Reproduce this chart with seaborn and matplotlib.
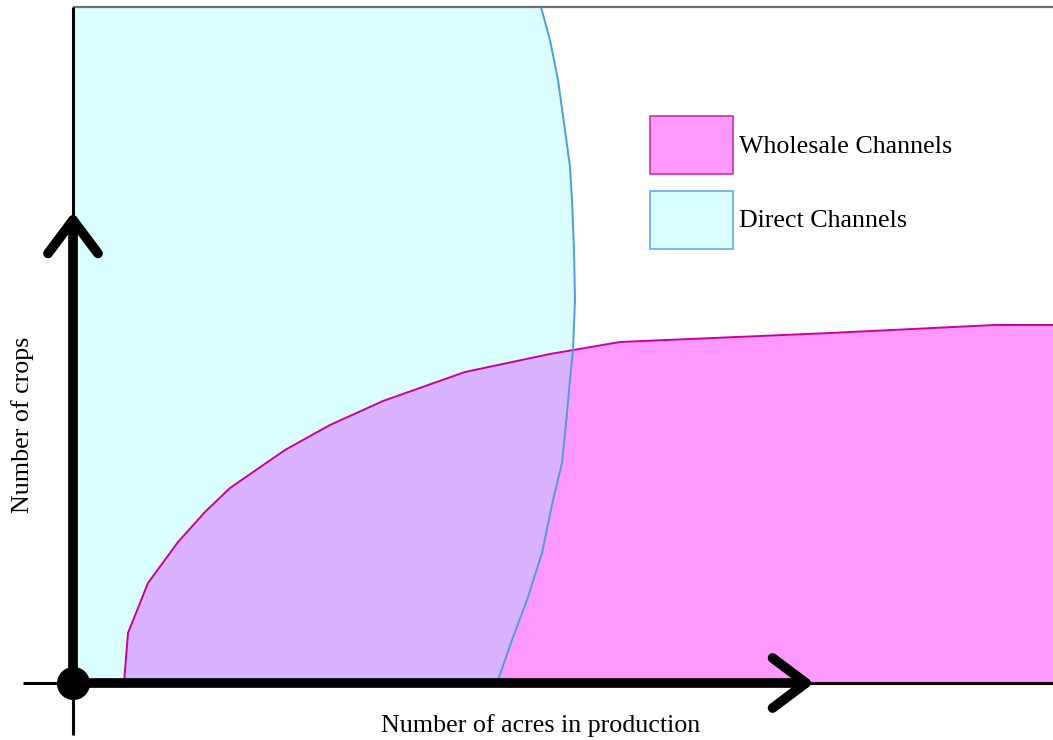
import seaborn as sns
import numpy as np
import matplotlib.pyplot as plt
import matplotlib.patches as mpatches

# conceptual units: x = acres in production, y = number of crops
direct_x = [0.0, 0.0, 46.8, 47.7, 48.5, 49.2, 49.7, 49.9, 50.1, 50.2, 50.0, 49.7,
            49.4, 48.9, 48.0, 46.9, 45.4, 43.9, 42.4]
direct_y = [0.0, 67.6, 67.6, 64.3, 60.3, 55.3, 51.6, 48.3, 43.3, 38.3, 33.3, 30.3,
            27.0, 22.0, 18.3, 13.0, 8.3, 4.3, 0.0]

wholesale_x = [5.1, 5.5, 7.5, 10.5, 13.2, 15.7, 21.2, 25.7, 31.0, 39.2, 47.7, 54.7, 75.7, 92.2, 98.0]
wholesale_y = [0.0, 5.0, 10.0, 14.1, 17.1, 19.5, 23.3, 25.8, 28.2, 31.1, 32.9, 34.1, 35.0, 35.8, 35.8]

labels = ['Wholesale Channels', 'Direct Channels']
x_label = 'Number of acres in production'
y_label = 'Number of crops'

cyan_fill, cyan_edge = '#d9ffff', '#4a9de6'
pink_fill, pink_edge = '#ff99ff', '#cc0099'
overlap_fill = '#d9b3ff'

sns.set_theme(style='white')
plt.rcParams['font.family'] = ['Liberation Serif', 'DejaVu Serif']
plt.rcParams['text.color'] = 'black'

fig = plt.figure(figsize=(10.53, 7.4), dpi=100)
ax = fig.add_axes([0, 0, 1, 1])
ax.set_xlim(-7.3, 98.0)
ax.set_ylim(-5.7, 68.3)
ax.axis('off')

# direct channels region
cyan_patch = ax.fill(direct_x, direct_y, color=cyan_fill, lw=0, zorder=1)[0]

# wholesale channels region, plus the overlap clipped to the direct region
ax.fill_between(wholesale_x, 0, wholesale_y, color=pink_fill, lw=0, zorder=2)
over = ax.fill_between(wholesale_x, 0, wholesale_y, color=overlap_fill, lw=0, zorder=3)
over.set_clip_path(cyan_patch)

sns.lineplot(x=wholesale_x, y=wholesale_y, sort=False, estimator=None,
             color=pink_edge, lw=1.4, ax=ax, zorder=4)
sns.lineplot(x=direct_x[2:], y=direct_y[2:], sort=False, estimator=None,
             color=cyan_edge, lw=1.4, ax=ax, zorder=5)

# frame / axis lines
ax.hlines(67.6, 0, 98.0, color='#6e6e6e', lw=1.6, zorder=6)
ax.vlines(0, -5.2, 67.6, color='black', lw=2.2, zorder=6)
ax.hlines(0, -5.0, 98.0, color='black', lw=2.2, zorder=6)

arrow_kw = dict(arrowstyle='->,head_length=24,head_width=18', mutation_scale=1,
                lw=7, color='black', shrinkA=0, shrinkB=0, capstyle='round', joinstyle='round')
ax.annotate('', xy=(0, 47.1), xytext=(0, 0), arrowprops=arrow_kw, zorder=7)
ax.annotate('', xy=(74.1, 0), xytext=(0, 0), arrowprops=arrow_kw, zorder=7)
ax.scatter([0], [0], s=520, color='black', zorder=8)

ax.text(0.513, 0.02, x_label, transform=ax.transAxes, ha='center', va='center',
        fontsize=18.7, color='black')
ax.text(0.021, 0.426, y_label, transform=ax.transAxes, ha='center', va='center',
        rotation=90, fontsize=18.7, color='black')

handles = [mpatches.Patch(facecolor=pink_fill, edgecolor='#cc3399', lw=1.2),
           mpatches.Patch(facecolor=cyan_fill, edgecolor='#66aaee', lw=1.2)]
ax.legend(handles, labels, loc='upper left', bbox_to_anchor=(0.6173, 0.8432),
          bbox_transform=fig.transFigure, frameon=False, fontsize=18.7,
          handlelength=3.2, handleheight=3.05, handletextpad=0.23,
          labelspacing=0.65, borderpad=0, borderaxespad=0, labelcolor='black')

fig.savefig('out.png', dpi=100)
